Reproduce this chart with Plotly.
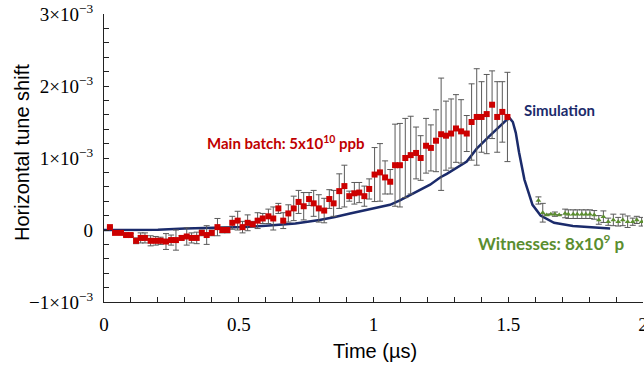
import numpy as np
import plotly.graph_objects as go

# ---------------- data (tune shift values in units of 1e-3) ----------------
main_t = [0.022, 0.041, 0.063, 0.082, 0.099, 0.119, 0.136, 0.152, 0.173, 0.192,
          0.210, 0.230, 0.249, 0.267, 0.288, 0.307, 0.325, 0.344, 0.363, 0.381,
          0.400, 0.421, 0.439, 0.458, 0.476, 0.496, 0.514, 0.533, 0.552, 0.570,
          0.589, 0.610, 0.628, 0.647, 0.665, 0.684, 0.704, 0.722, 0.741, 0.761,
          0.778, 0.797, 0.817, 0.836, 0.852, 0.873, 0.892, 0.910, 0.929, 0.947,
          0.966, 0.984, 1.004, 1.024, 1.043, 1.062, 1.080, 1.098, 1.118, 1.138,
          1.158, 1.175, 1.195, 1.213, 1.232, 1.251, 1.269, 1.288, 1.306, 1.325,
          1.346, 1.364, 1.383, 1.401, 1.420, 1.440, 1.459, 1.478, 1.497]
main_shift_e3 = [0.04, -0.04, -0.04, -0.07, -0.07, -0.15, -0.11, -0.11, -0.15, -0.15,
                 -0.15, -0.16, -0.14, -0.14, -0.11, -0.09, -0.11, -0.11, -0.04, -0.07,
                 -0.04, 0.04, 0.0, 0.0, 0.10, 0.13, 0.04, 0.10, 0.08, 0.13,
                 0.16, 0.19, 0.16, 0.30, 0.13, 0.23, 0.30, 0.39, 0.33, 0.43,
                 0.37, 0.30, 0.27, 0.43, 0.37, 0.54, 0.61, 0.47, 0.51, 0.52,
                 0.47, 0.57, 0.77, 0.80, 0.73, 0.67, 0.90, 0.90, 1.00, 1.04,
                 1.07, 1.00, 1.17, 1.14, 1.24, 1.33, 1.31, 1.34, 1.41, 1.37,
                 1.34, 1.50, 1.57, 1.57, 1.61, 1.74, 1.57, 1.64, 1.57]
main_err_e3 = [0.0, 0.0, 0.0, 0.02, 0.02, 0.04, 0.07, 0.07, 0.07, 0.06,
               0.05, 0.11, 0.07, 0.14, 0.03, 0.12, 0.07, 0.08, 0.04, 0.13,
               0.04, 0.12, 0.04, 0.04, 0.09, 0.13, 0.08, 0.11, 0.04, 0.11,
               0.07, 0.10, 0.16, 0.07, 0.11, 0.12, 0.17, 0.16, 0.19, 0.09,
               0.18, 0.19, 0.17, 0.13, 0.18, 0.24, 0.29, 0.07, 0.15, 0.14,
               0.14, 0.14, 0.375, 0.40, 0.23, 0.17, 0.57, 0.58, 0.55, 0.54,
               0.36, 0.31, 0.38, 0.32, 0.43, 0.78, 0.48, 0.48, 0.47, 0.44,
               0.25, 0.53, 0.67, 0.49, 0.55, 0.47, 0.49, 0.42, 0.62]

sim_t = [0.0, 0.1, 0.2, 0.3, 0.4, 0.52, 0.6, 0.71, 0.8, 0.857, 0.913, 0.987,
         1.061, 1.098, 1.135, 1.173, 1.21, 1.247, 1.272, 1.346, 1.383, 1.432,
         1.494, 1.506, 1.517, 1.528, 1.54, 1.56, 1.59, 1.62, 1.67, 1.74, 1.82, 1.878]
sim_shift_e3 = [0.0, 0.0, 0.005, 0.02, 0.03, 0.04, 0.06, 0.09, 0.14, 0.18, 0.23, 0.29,
                0.35, 0.41, 0.48, 0.55, 0.63, 0.73, 0.78, 0.95, 1.13, 1.31,
                1.53, 1.55, 1.50, 1.35, 1.08, 0.70, 0.35, 0.20, 0.10, 0.055, 0.03, 0.02]

wit_t = [1.612, 1.628, 1.643, 1.658, 1.673, 1.689, 1.711, 1.723, 1.741, 1.756,
         1.773, 1.788, 1.803, 1.819, 1.836, 1.853, 1.871, 1.890, 1.908, 1.925,
         1.943, 1.962, 1.977, 1.995]
wit_shift_e3 = [0.41, 0.24, 0.21, 0.22, 0.22, 0.21, 0.23, 0.22, 0.22, 0.22,
                0.22, 0.22, 0.22, 0.21, 0.14, 0.185, 0.115, 0.14, 0.115, 0.14,
                0.115, 0.115, 0.14, 0.115]
wit_err_e3 = [0.05, 0.13, 0.0, 0.0, 0.03, 0.0, 0.06, 0.06, 0.06, 0.06,
              0.06, 0.06, 0.06, 0.06, 0.06, 0.08, 0.05, 0.08, 0.06, 0.08,
              0.08, 0.05, 0.05, 0.06]

x_tick_vals = [0, 0.5, 1, 1.5, 2]
x_tick_text = ["0", "0.5", "1", "1.5", "2"]
y_tick_vals_e3 = [-1, 0, 1, 2, 3]
y_tick_text = ["\u22121\u00d710<sup>\u22123</sup>", "0", "1\u00d710<sup>\u22123</sup>",
               "2\u00d710<sup>\u22123</sup>", "3\u00d710<sup>\u22123</sup>"]

E3 = 1e-3
RED = "#CC0000"
NAVY = "#1B2B6B"
GREEN = "#5B8E2F"
ERRC = "#5A5A5A"

fig = go.Figure()

fig.add_trace(go.Scatter(
    x=sim_t, y=np.array(sim_shift_e3) * E3, mode="lines",
    line=dict(color=NAVY, width=2.5), showlegend=False))

fig.add_trace(go.Scatter(
    x=main_t, y=np.array(main_shift_e3) * E3, mode="markers",
    marker=dict(symbol="square", size=6, color=RED),
    error_y=dict(type="data", array=np.array(main_err_e3) * E3, color=ERRC,
                 thickness=1, width=3),
    showlegend=False))

fig.add_trace(go.Scatter(
    x=wit_t, y=np.array(wit_shift_e3) * E3, mode="markers",
    marker=dict(symbol="triangle-up", size=5, color=GREEN),
    error_y=dict(type="data", array=np.array(wit_err_e3) * E3, color=ERRC,
                 thickness=1, width=3),
    showlegend=False))

tickfont = dict(family="Liberation Serif", size=19, color="black")

fig.update_xaxes(
    range=[0, 2], showline=True, linecolor="#222", linewidth=1.3,
    ticks="inside", ticklen=5, tickcolor="#222",
    tickvals=x_tick_vals, ticktext=x_tick_text, tickfont=tickfont,
    minor=dict(dtick=0.1, ticks="inside", ticklen=5, tickcolor="#222"),
    showgrid=False, zeroline=False, ticklabelstandoff=5, ticklabeloverflow="allow")
fig.update_yaxes(
    range=[-1 * E3, 3 * E3], showline=True, linecolor="#222", linewidth=1.3,
    ticks="inside", ticklen=5, tickcolor="#222",
    tickvals=[v * E3 for v in y_tick_vals_e3], ticktext=y_tick_text, tickfont=tickfont,
    minor=dict(dtick=0.2 * E3, tick0=0, ticks="inside", ticklen=5, tickcolor="#222"),
    showgrid=False, zeroline=False, ticklabelstandoff=6, ticklabeloverflow="allow")

L, R, T, B = 104, 1, 14, 67
W, H = 644, 369
pw, ph = W - L - R, H - T - B

def px_x(p):
    return (p - L) / pw

def px_y(p):
    return (H - B - p) / ph

fig.add_annotation(text="Horizontal tune shift", xref="paper", yref="paper",
                   x=px_x(22), y=px_y(153), textangle=-90, showarrow=False,
                   xanchor="center", yanchor="middle",
                   font=dict(family="Liberation Sans", size=20, color="black"))
fig.add_annotation(text="Time (\u00b5s)", xref="paper", yref="paper",
                   x=px_x(375), y=px_y(351), showarrow=False,
                   xanchor="center", yanchor="middle",
                   font=dict(family="Liberation Sans", size=20, color="black"))

fig.add_annotation(text="<b>Main batch: 5x10<sup>10</sup> ppb</b>", x=0.375, y=1.21 * E3,
                   showarrow=False, xanchor="left", yanchor="middle",
                   font=dict(family="Lato", size=15, color="#C00000"))
fig.add_annotation(text="<b>Simulation</b>", x=1.551, y=1.667 * E3,
                   showarrow=False, xanchor="left", yanchor="middle",
                   font=dict(family="Lato", size=15, color=NAVY))
fig.add_annotation(text="<b>Witnesses: 8x10<sup>9</sup> p</b>", x=1.38, y=-0.18 * E3,
                   showarrow=False, xanchor="left", yanchor="middle",
                   font=dict(family="Lato", size=17, color=GREEN))

fig.update_layout(
    width=W, height=H, margin=dict(l=L, r=R, t=T, b=B, autoexpand=False),
    plot_bgcolor="white", paper_bgcolor="white", showlegend=False)

fig.write_html("out.html")
